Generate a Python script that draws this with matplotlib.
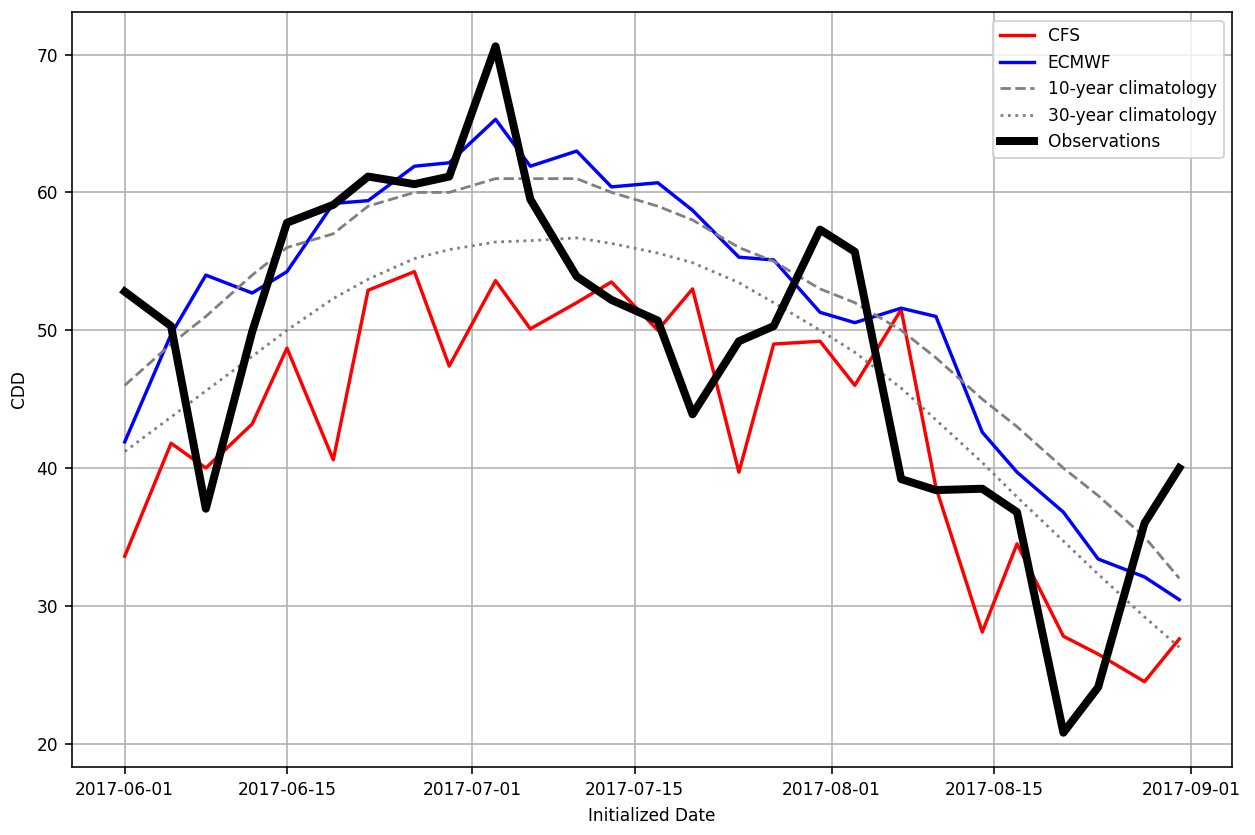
import matplotlib
matplotlib.use("Agg")
import matplotlib.pyplot as plt
import pandas as pd

dates = ["2017-06-01", "2017-06-05", "2017-06-08", "2017-06-12", "2017-06-15",
         "2017-06-19", "2017-06-22", "2017-06-26", "2017-06-29", "2017-07-03",
         "2017-07-06", "2017-07-10", "2017-07-13", "2017-07-17", "2017-07-20",
         "2017-07-24", "2017-07-27", "2017-07-31", "2017-08-03", "2017-08-07",
         "2017-08-10", "2017-08-14", "2017-08-17", "2017-08-21", "2017-08-24",
         "2017-08-28", "2017-08-31"]

cfs = [33.6, 41.8, 40.0, 43.2, 48.7, 40.6, 52.9, 54.25, 47.4, 53.6,
       50.1, 52.0, 53.5, 50.0, 53.0, 39.7, 49.0, 49.2, 46.0, 51.5,
       38.6, 28.1, 34.5, 27.8, 26.5, 24.5, 27.6]

ecmwf = [41.9, 49.7, 54.0, 52.7, 54.25, 59.2, 59.4, 61.9, 62.15, 65.3,
         61.9, 63.0, 60.4, 60.7, 58.7, 55.3, 55.1, 51.3, 50.55, 51.6,
         51.0, 42.6, 39.7, 36.8, 33.4, 32.1, 30.45]

clim10 = [46, 49, 51, 54, 56, 57, 59, 60, 60, 61,
          61, 61, 60, 59, 58, 56, 55, 53, 52, 50,
          48, 45, 43, 40, 38, 35, 32]

clim30 = [41.2, 43.7, 45.6, 48.1, 50.0, 52.3, 53.7, 55.2, 55.85, 56.4,
          56.5, 56.7, 56.3, 55.6, 54.9, 53.45, 52.0, 50.0, 48.4, 45.8,
          43.5, 40.4, 37.9, 34.7, 32.3, 29.2, 27.0]

obs = [52.8, 50.3, 37.05, 49.9, 57.8, 59.1, 61.15, 60.6, 61.15, 70.6,
       59.5, 53.9, 52.2, 50.7, 43.9, 49.2, 50.3, 57.3, 55.7, 39.2,
       38.4, 38.5, 36.8, 20.8, 24.1, 36.0, 40.0]

tick_dates = ["2017-06-01", "2017-06-15", "2017-07-01", "2017-07-15",
              "2017-08-01", "2017-08-15", "2017-09-01"]

plt.rcParams["font.size"] = 8.5

x = pd.to_datetime(dates)

dpi = 144
fig = plt.figure(figsize=(1255 / dpi, 835 / dpi), dpi=dpi)
ax = fig.add_axes([72 / 1255, 1 - 767 / 835, (1232 - 72) / 1255, (767 - 12) / 835])

ax.plot(x, cfs, color="red", lw=1.7, label="CFS")
ax.plot(x, ecmwf, color="blue", lw=1.7, label="ECMWF")
ax.plot(x, clim10, color="gray", lw=1.4, ls="--", label="10-year climatology")
ax.plot(x, clim30, color="gray", lw=1.4, ls=":", label="30-year climatology")
ax.plot(x, obs, color="black", lw=4, label="Observations")

ax.set_xticks(pd.to_datetime(tick_dates))
ax.set_xticklabels(tick_dates)
ax.grid(True)
ax.set_xlabel("Initialized Date")
ax.set_ylabel("CDD")
ax.legend(loc="upper right")

fig.savefig("out.png", dpi=dpi)
